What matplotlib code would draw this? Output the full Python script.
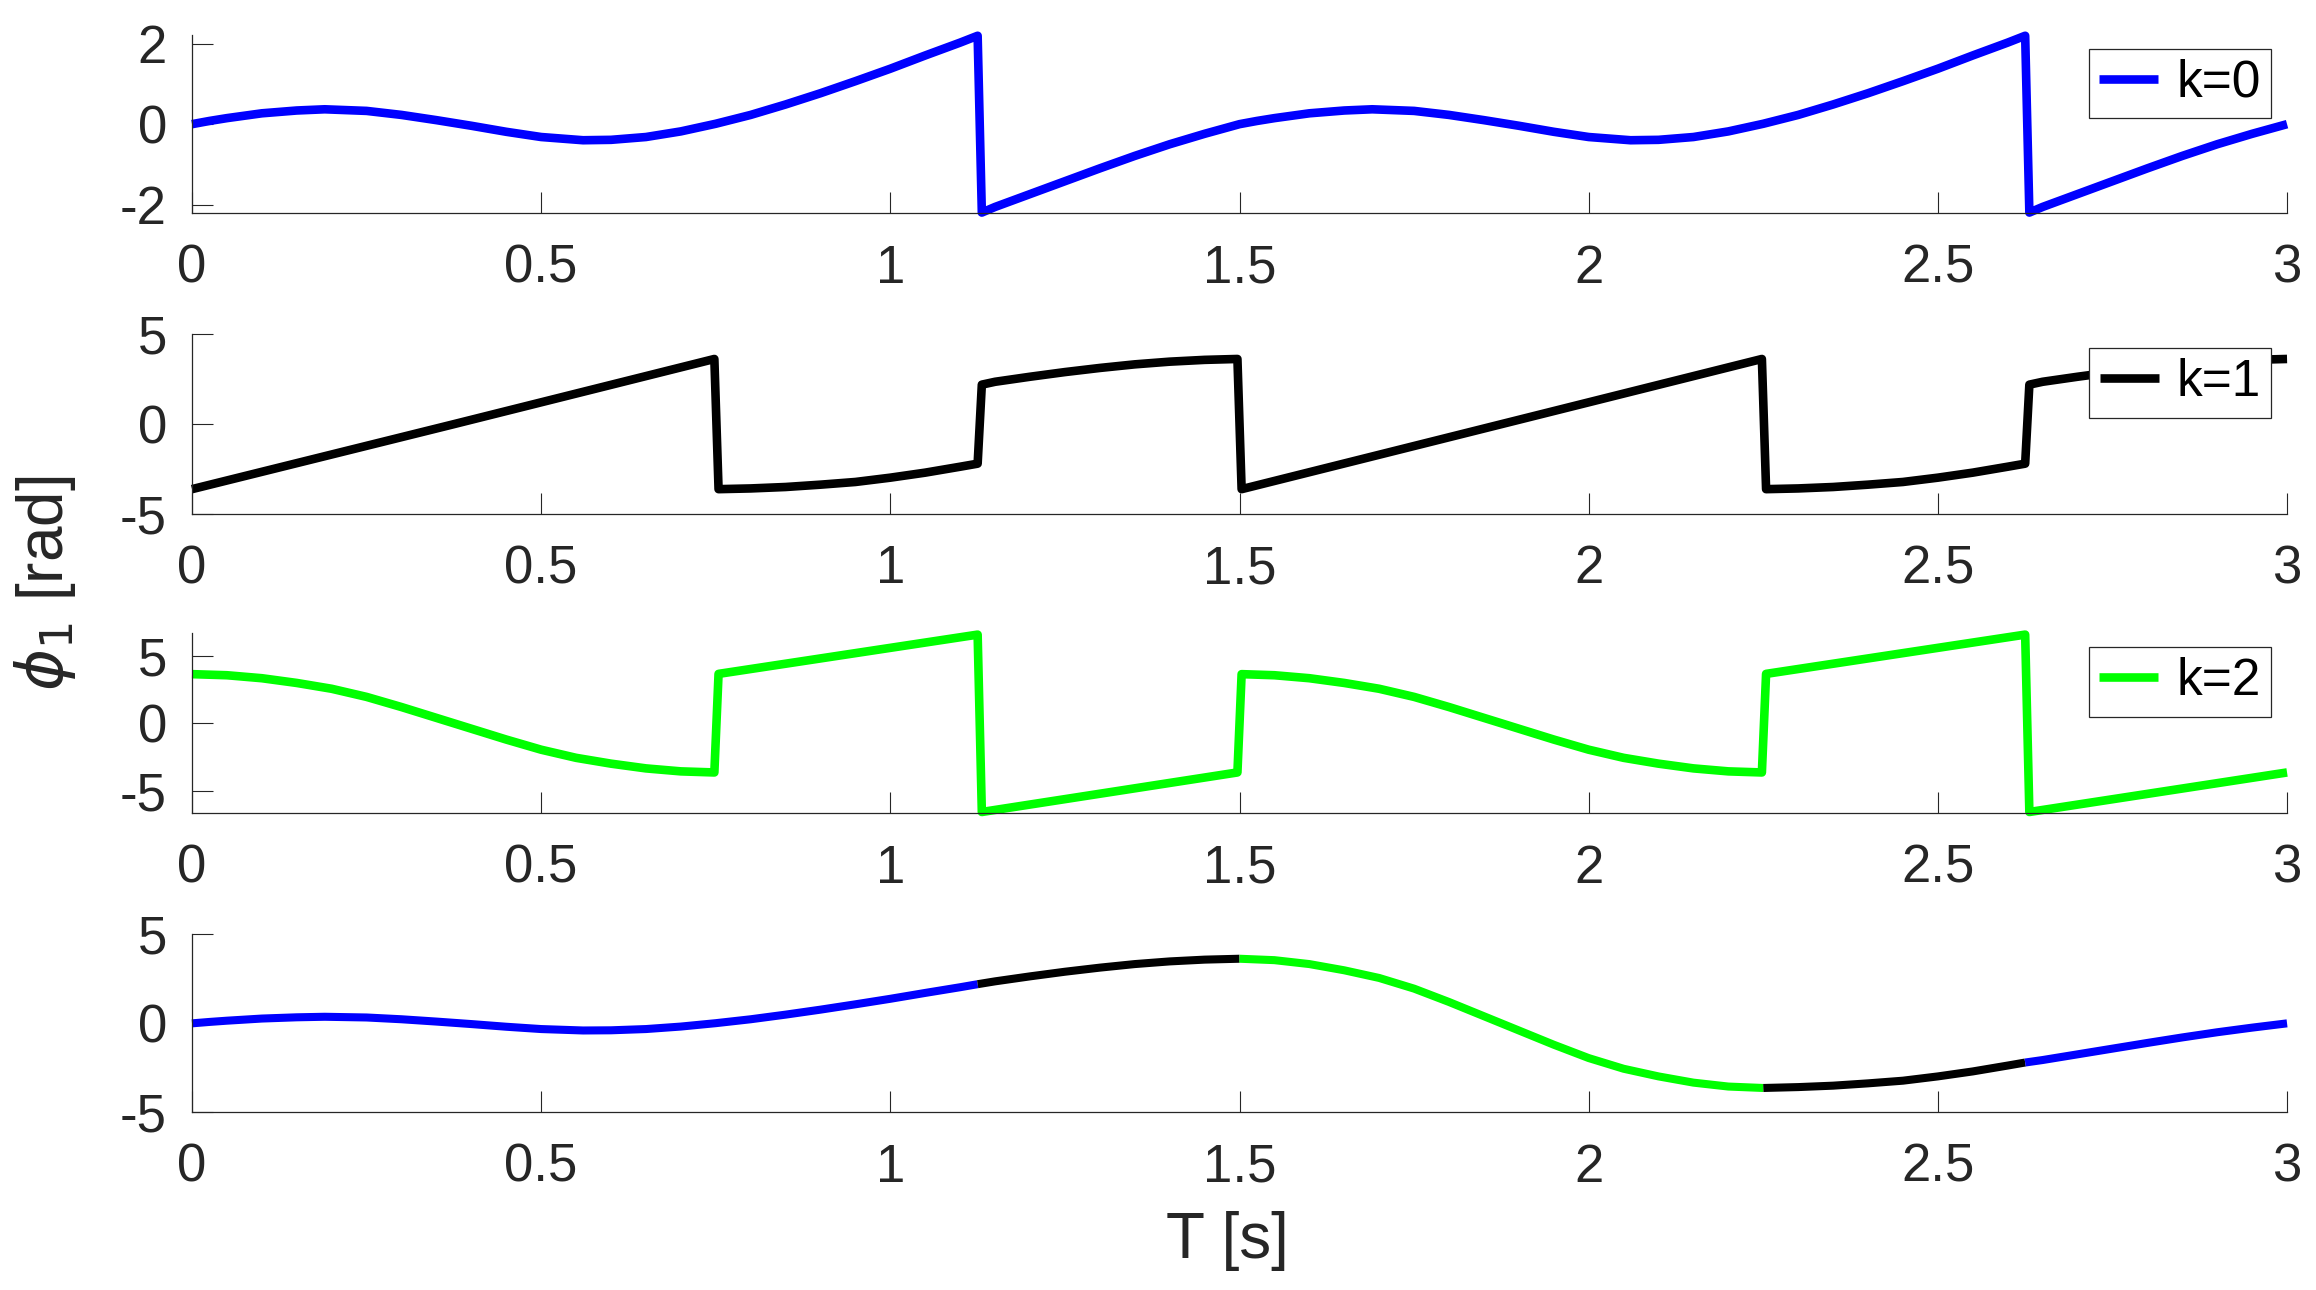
import numpy as np
import matplotlib
matplotlib.use('Agg')
import matplotlib.pyplot as plt

# phase samples (rad), time in s
t_k0 = [0, 0.025, 0.05, 0.10, 0.15, 0.19, 0.25, 0.30, 0.35, 0.40, 0.45, 0.50, 0.56, 0.60, 0.65, 0.70, 0.75,
        0.80, 0.85, 0.90, 0.95, 1.00, 1.05, 1.10, 1.125,
        1.131, 1.15, 1.20, 1.25, 1.30, 1.35, 1.40, 1.45, 1.475, 1.50,
        1.525, 1.55, 1.60, 1.65, 1.69, 1.75, 1.80, 1.85, 1.90, 1.95, 2.00, 2.06, 2.10, 2.15, 2.20, 2.25,
        2.30, 2.35, 2.40, 2.45, 2.50, 2.55, 2.60, 2.625,
        2.631, 2.65, 2.70, 2.75, 2.80, 2.85, 2.90, 2.95, 2.975, 3.00]
phi_k0 = [0.0, 0.08, 0.15, 0.27, 0.34, 0.37, 0.33, 0.23, 0.10, -0.04, -0.19, -0.32, -0.40, -0.39, -0.32, -0.18, 0.01,
          0.23, 0.49, 0.77, 1.07, 1.38, 1.71, 2.03, 2.2,
          -2.2, -2.06, -1.74, -1.42, -1.10, -0.79, -0.50, -0.24, -0.12, 0.0,
          0.08, 0.15, 0.27, 0.34, 0.37, 0.33, 0.23, 0.10, -0.04, -0.19, -0.32, -0.40, -0.39, -0.32, -0.18, 0.01,
          0.23, 0.49, 0.77, 1.07, 1.38, 1.71, 2.03, 2.2,
          -2.2, -2.06, -1.74, -1.42, -1.10, -0.79, -0.50, -0.24, -0.12, 0.0]

t_k1 = [0, 0.375, 0.748, 0.754, 0.80, 0.85, 0.90, 0.95, 1.00, 1.05, 1.10, 1.125,
        1.131, 1.15, 1.20, 1.25, 1.30, 1.35, 1.40, 1.45, 1.497, 1.503,
        1.875, 2.248, 2.254, 2.30, 2.35, 2.40, 2.45, 2.50, 2.55, 2.60, 2.625,
        2.631, 2.65, 2.70, 2.75, 2.80, 2.85, 2.90, 2.95, 3.00]
phi_k1 = [-3.62, 0.0, 3.63, -3.62, -3.58, -3.50, -3.37, -3.22, -2.98, -2.70, -2.37, -2.2,
          2.2, 2.36, 2.64, 2.90, 3.13, 3.33, 3.48, 3.58, 3.63, -3.62,
          0.0, 3.63, -3.62, -3.58, -3.50, -3.37, -3.22, -2.98, -2.70, -2.37, -2.2,
          2.2, 2.36, 2.64, 2.90, 3.13, 3.33, 3.48, 3.58, 3.63]

t_k2 = [0, 0.05, 0.10, 0.15, 0.20, 0.25, 0.30, 0.35, 0.40, 0.45, 0.50, 0.55, 0.60, 0.65, 0.70, 0.748,
        0.754, 1.125, 1.131, 1.497, 1.503,
        1.55, 1.60, 1.65, 1.70, 1.75, 1.80, 1.85, 1.90, 1.95, 2.00, 2.05, 2.10, 2.15, 2.20, 2.248,
        2.254, 2.625, 2.631, 3.00]
phi_k2 = [3.63, 3.55, 3.33, 2.98, 2.55, 1.95, 1.2, 0.4, -0.4, -1.2, -1.95, -2.55, -2.98, -3.33, -3.55, -3.63,
          3.65, 6.55, -6.55, -3.63, 3.63,
          3.55, 3.33, 2.98, 2.55, 1.95, 1.2, 0.4, -0.4, -1.2, -1.95, -2.55, -2.98, -3.33, -3.55, -3.63,
          3.65, 6.55, -6.55, -3.63]

# continuous phase in the bottom panel, coloured by the branch it follows
t_sum = [0, 0.025, 0.05, 0.10, 0.15, 0.19, 0.25, 0.30, 0.35, 0.40, 0.45, 0.50, 0.56, 0.60, 0.65, 0.70, 0.75,
         0.80, 0.85, 0.90, 0.95, 1.00, 1.05, 1.10, 1.125,
         1.15, 1.20, 1.25, 1.30, 1.35, 1.40, 1.45, 1.50,
         1.55, 1.60, 1.65, 1.70, 1.75, 1.80, 1.85, 1.90, 1.95, 2.00, 2.05, 2.10, 2.15, 2.20,
         2.25, 2.30, 2.35, 2.40, 2.45, 2.50, 2.55, 2.60, 2.625,
         2.65, 2.70, 2.75, 2.80, 2.85, 2.90, 2.95, 2.975, 3.00]
phi_sum = [0.0, 0.08, 0.15, 0.27, 0.34, 0.37, 0.33, 0.23, 0.10, -0.04, -0.19, -0.32, -0.40, -0.39, -0.32, -0.18, 0.01,
           0.23, 0.49, 0.77, 1.07, 1.38, 1.71, 2.03, 2.2,
           2.36, 2.64, 2.90, 3.13, 3.33, 3.48, 3.58, 3.63,
           3.55, 3.33, 2.98, 2.55, 1.95, 1.2, 0.4, -0.4, -1.2, -1.95, -2.55, -2.98, -3.33, -3.55,
           -3.63, -3.58, -3.50, -3.37, -3.22, -2.98, -2.70, -2.37, -2.2,
           -2.06, -1.74, -1.42, -1.10, -0.79, -0.50, -0.24, -0.12, 0.0]
seg_edges = [0, 1.125, 1.5, 2.25, 2.625, 3.0]
seg_colors = ['#0000ff', '#000000', '#00ff00', '#000000', '#0000ff']

xticks = [0, 0.5, 1, 1.5, 2, 2.5, 3]
xtick_labels = ['0', '0.5', '1', '1.5', '2', '2.5', '3']

plt.rcParams['font.family'] = ['Liberation Sans', 'DejaVu Sans']
plt.rcParams['axes.unicode_minus'] = False
dark = '#262626'
lw = 6.2

fig = plt.figure(figsize=(23.16, 12.9), dpi=100)
left, width = 0.0829, 0.9046
ax1 = fig.add_axes([left, 0.8346, width, 0.1383])
ax2 = fig.add_axes([left, 0.6016, width, 0.1392])
ax3 = fig.add_axes([left, 0.3695, width, 0.1396])
ax4 = fig.add_axes([left, 0.1377, width, 0.1380])


def style(ax, ylim, yticks):
    ax.set_xlim(0, 3)
    ax.set_ylim(*ylim)
    ax.set_xticks(xticks)
    ax.set_xticklabels(xtick_labels)
    ax.set_yticks(yticks)
    ax.spines['top'].set_visible(False)
    ax.spines['right'].set_visible(False)
    for s in ['left', 'bottom']:
        ax.spines[s].set_color(dark)
        ax.spines[s].set_linewidth(0.9)
    ax.tick_params(direction='in', length=15, width=0.8, colors=dark, labelsize=38)
    ax.tick_params(axis='x', pad=22)
    ax.tick_params(axis='y', pad=18)


def add_legend(ax):
    ax.legend(loc='upper right', bbox_to_anchor=(0.9924, 0.923), borderaxespad=0,
              fontsize=37, handlelength=1.15, handletextpad=0.35, borderpad=0.2,
              fancybox=False, framealpha=1, edgecolor=dark)
    ax.get_legend().get_frame().set_linewidth(0.9)


ax1.plot(t_k0, phi_k0, color='#0000ff', lw=lw, label='k=0', clip_on=False, solid_capstyle='butt')
style(ax1, (-2.22, 2.22), [-2, 0, 2])
add_legend(ax1)

ax2.plot(t_k1, phi_k1, color='#000000', lw=lw, label='k=1', clip_on=False, solid_capstyle='butt')
style(ax2, (-5, 5), [-5, 0, 5])
add_legend(ax2)

ax3.plot(t_k2, phi_k2, color='#00ff00', lw=lw, label='k=2', clip_on=False, solid_capstyle='butt')
style(ax3, (-6.65, 6.65), [-5, 0, 5])
add_legend(ax3)

t_arr = np.array(t_sum)
phi_arr = np.array(phi_sum)
for a, b, c in zip(seg_edges[:-1], seg_edges[1:], seg_colors):
    m = (t_arr >= a) & (t_arr <= b)
    ax4.plot(t_arr[m], phi_arr[m], color=c, lw=5.8, clip_on=False, solid_capstyle='butt')
style(ax4, (-5, 5), [-5, 0, 5])

fig.text(0.530, 0.038, 'T [s]', ha='center', va='center', fontsize=46, color=dark)
fig.text(0.0194, 0.548, r'$\phi_1$ [rad]', rotation=90, ha='center', va='center',
         fontsize=46, color=dark)

fig.savefig('out.png', dpi=100)
